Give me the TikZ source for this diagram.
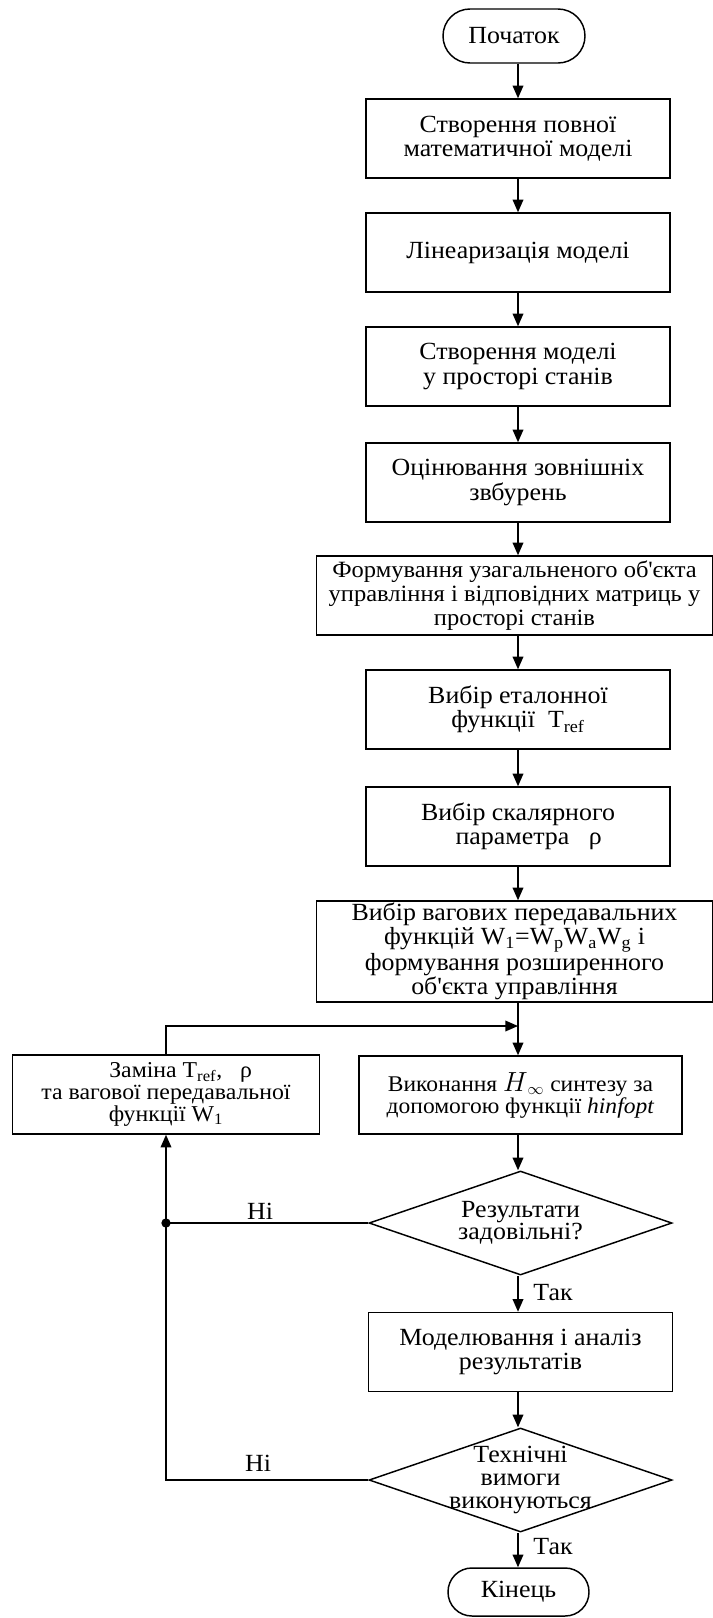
\documentclass[tikz,border=0pt]{standalone}
\usepackage{fontspec}
\setmainfont{Liberation Serif}[FakeStretch=1.05]
\usetikzlibrary{shapes.geometric,arrows.meta,calc}
\begin{document}
\begin{tikzpicture}[x=0.75pt,y=-0.75pt,
  font=\fontsize{18.5}{18.4}\selectfont, line width=1.1pt,
  box/.style={draw, rectangle, align=center, minimum width=228pt, minimum height=59.25pt, inner sep=1pt},
  widebox/.style={box, minimum width=297pt},
  termbox/.style={draw, rectangle, align=center, inner sep=1pt},
  decision/.style={draw, diamond, minimum width=227.25pt, minimum height=78pt, inner sep=0pt},
  lbl/.style={inner sep=1pt},
  arr/.style={-{Triangle[length=9.5pt,width=8pt]}},
  line/.style={-}]
\useasboundingbox (0,0) rectangle (713,1618);
\coordinate (col) at (518,0);

\node[termbox, minimum width=106.5pt, minimum height=40.5pt, rounded corners=20.2pt] (start) at (514,36) {Початок};
\node[box] (b1) at (518,138.5) {Створення повної\\математичної моделі};
\node[box] (b2) at (518,252.5) {Лінеаризація моделі};
\node[box] (b3) at (518,366.5) {Створення моделі\\у просторі станів};
\node[box] (b4) at (518,482.5) {Оцінювання зовнішніх\\звбурень};
\node[widebox, font=\fontsize{17.5}{18}\selectfont] (b5) at (514.5,595.5) {Формування узагальненого об\textquotesingle єкта\\управління і відповідних матриць у\\просторі станів};
\node[box] (b6) at (518,709.5) {Вибір еталонної\\функції\ \ T\textsubscript{ref}};
\node[box] (b7) at (518,826.5) {Вибір скалярного\\\hspace*{16pt}параметра\ \ \ ρ};
\node[widebox, minimum height=75.75pt, font=\fontsize{18.5}{18.2}\selectfont] (b8) at (514.5,951.5) {Вибір вагових передавальних\\функцій W\textsubscript{1}=W\textsubscript{p}W\textsubscript{a}W\textsubscript{g} і\\формування розширенного\\об\textquotesingle єкта управління};
\coordinate (J) at (518,1026);
\node[box, minimum width=242.25pt, minimum height=58.5pt, font=\fontsize{16.8}{16.5}\selectfont] (b9) at (520.5,1095) {Виконання {\fontsize{21}{21}\selectfont$H$}\textsubscript{$\infty$} синтезу за\\допомогою функції \textit{hinfopt}};
\node[box, minimum width=230pt, font=\fontsize{17}{16.3}\selectfont] (left) at (166,1094.5) {\hspace*{22pt}Заміна T\textsubscript{ref},\ \ \ ρ\\та вагової передавальної\\функції W\textsubscript{1}};
\node[decision] (d1) at (520.5,1223) {};
\node[lbl, align=center, font=\fontsize{18.5}{16.3}\selectfont] (d1t) at (d1.center) {Результати\\задовільні?};
\node[box] (b10) at (520.5,1352) {Моделювання і аналіз\\результатів};
\node[decision] (d2) at (520.5,1480) {};
\node[lbl, align=center, font=\fontsize{18.5}{17.6}\selectfont] (d2t) at (d2.center) {Технічні\\вимоги\\виконуються};
\node[termbox, minimum width=105.75pt, minimum height=36pt, rounded corners=17.9pt] (end) at (518.5,1592) {Кінець};
\node[circle, fill, inner sep=0pt, minimum size=7pt] (dot) at (166,1223) {};

\node[lbl] (no1) at (260,1211) {Ні};
\node[lbl] (no2) at (258,1463) {Ні};
\node[lbl] (yes1) at (553,1293) {Так};
\node[lbl] (yes2) at (553,1547) {Так};

\draw[arr] (col |- start.south) -- (col |- b1.north);
\draw[arr] (col |- b1.south) -- (col |- b2.north);
\draw[arr] (col |- b2.south) -- (col |- b3.north);
\draw[arr] (col |- b3.south) -- (col |- b4.north);
\draw[arr] (col |- b4.south) -- (col |- b5.north);
\draw[arr] (col |- b5.south) -- (col |- b6.north);
\draw[arr] (col |- b6.south) -- (col |- b7.north);
\draw[arr] (col |- b7.south) -- (col |- b8.north);
\draw[arr] (col |- b8.south) -- (col |- b9.north);
\draw[arr] (left.north) |- (J);
\draw[arr] (col |- b9.south) -- (col |- d1.north);
\draw[line] (d1.west) -- (dot.center);
\draw[arr] (dot.center) -- (left.south);
\draw[arr] (col |- d1.south) -- (col |- b10.north);
\draw[arr] (col |- b10.south) -- (col |- d2.north);
\draw[line] (d2.west) -| (dot.center);
\draw[arr] (col |- d2.south) -- (col |- end.north);
\end{tikzpicture}
\end{document}
